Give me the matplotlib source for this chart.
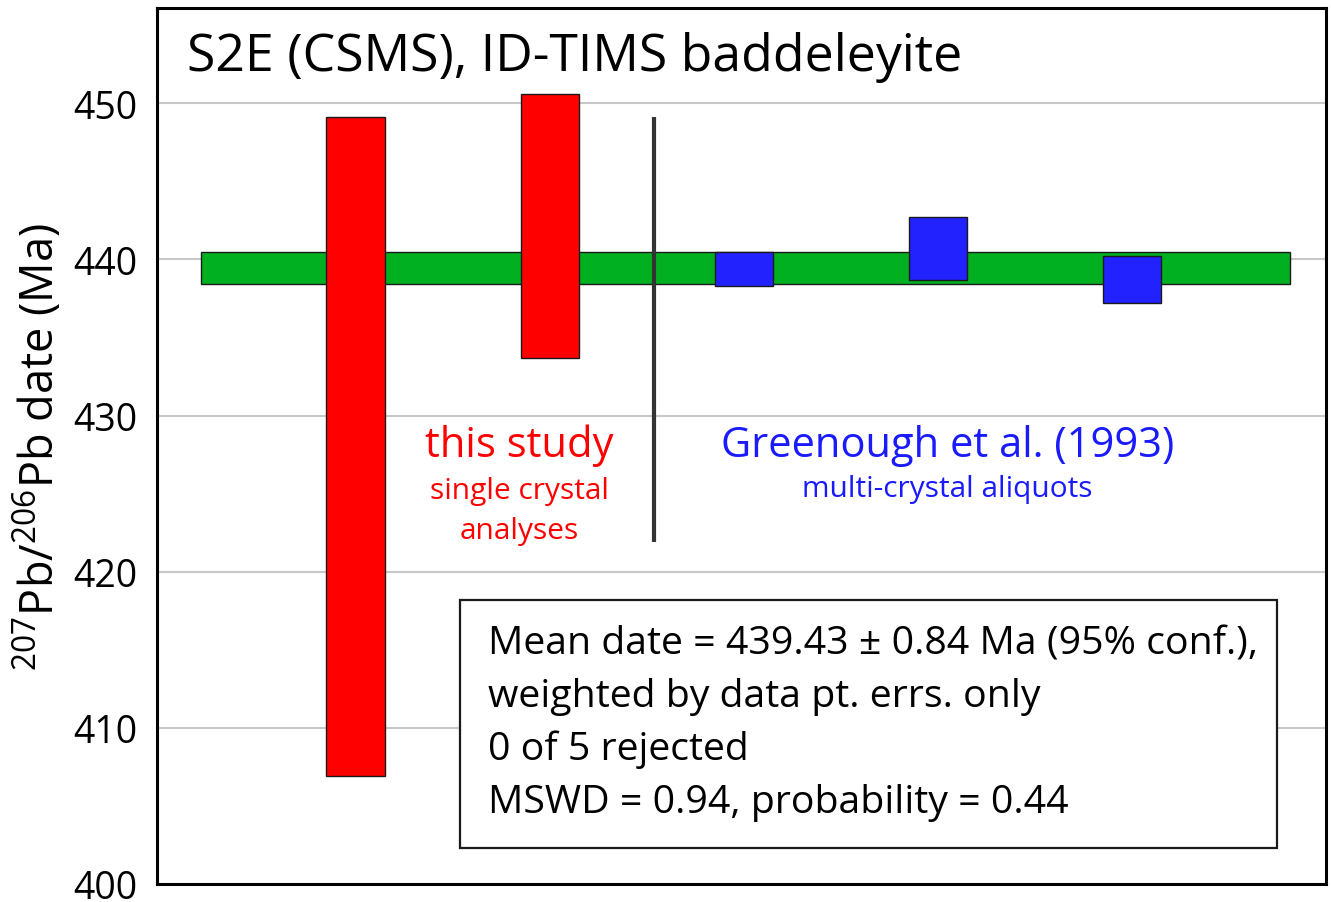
import matplotlib
matplotlib.use("Agg")
import matplotlib.pyplot as plt
from matplotlib.patches import Rectangle

plt.rcParams['font.family'] = ['Open Sans', 'DejaVu Sans']
plt.rcParams['mathtext.fontset'] = 'custom'
plt.rcParams['mathtext.rm'] = 'Open Sans'
plt.rcParams['mathtext.it'] = 'Open Sans'

# ---- data ----
positions = [1, 2, 3, 4, 5]
upper = [449.1, 450.6, 440.5, 442.7, 440.2]
lower = [406.9, 433.7, 438.3, 438.7, 437.2]
colors = ['#ff0000', '#ff0000', '#2222ff', '#2222ff', '#2222ff']
mean_upper = 440.45
mean_lower = 438.40
yticks = [400, 410, 420, 430, 440, 450]
title = "S2E (CSMS), ID-TIMS baddeleyite"
ylabel = r"$^{207}$Pb/$^{206}$Pb date (Ma)"
stats_lines = [
    "Mean date = 439.43 \u00b1 0.84 Ma (95% conf.),",
    "weighted by data pt. errs. only",
    "0 of 5 rejected",
    "MSWD = 0.94, probability = 0.44",
]

fig = plt.figure(figsize=(13.31, 9.03), dpi=100)
ax = fig.add_axes([157/1331, 18/903, (1326-157)/1331, (885-9)/903])
ax.set_xlim(-0.023, 6.0)
ax.set_ylim(400, 456.1)

# grid
ax.set_yticks(yticks)
ax.yaxis.grid(True, color='#c8c8c8', linewidth=1.5, zorder=0)
ax.set_axisbelow(True)
ax.set_xticks([])
ax.tick_params(axis='y', length=0, labelsize=27, pad=14)
for s in ax.spines.values():
    s.set_linewidth(2.2)

# mean band
ax.add_patch(Rectangle((0.203, mean_lower), 5.817 - 0.203, mean_upper - mean_lower,
                       facecolor='#00b020', edgecolor='#1a1a1a', linewidth=1, zorder=2))

# error boxes
bw = 0.30
for x, u, l, c in zip(positions, upper, lower, colors):
    ax.bar(x, u - l, bottom=l, width=bw, color=c, edgecolor='#1a1a1a', linewidth=1, zorder=3)

# divider
ax.plot([2.54, 2.54], [421.9, 449.1], color='#333333', linewidth=3, zorder=4, solid_capstyle='butt')

# texts
ax.text(0.131, 453.0, title, fontsize=37.3, ha='left', va='center', zorder=5)
ax.set_ylabel(ylabel, fontsize=32.5, labelpad=6)

ax.text(1.843, 428.1, "this study", color='#ff0000', fontsize=30, ha='center', va='center')
ax.text(1.843, 425.2, "single crystal", color='#ff0000', fontsize=21.5, ha='center', va='center')
ax.text(1.843, 422.65, "analyses", color='#ff0000', fontsize=21.5, ha='center', va='center')
ax.text(4.05, 428.1, "Greenough et al. (1993)", color='#1a1aff', fontsize=30, ha='center', va='center')
ax.text(4.05, 425.3, "multi-crystal aliquots", color='#1a1aff', fontsize=21.5, ha='center', va='center')

ax.add_patch(Rectangle((1.54, 402.3), 5.75 - 1.54, 418.2 - 402.3, facecolor='white',
                       edgecolor='#1a1a1a', linewidth=1.6, zorder=5))
line_y = [415.4, 412.05, 408.65, 405.25]
for y, t in zip(line_y, stats_lines):
    ax.text(1.68, y, t, fontsize=28.3, ha='left', va='center', zorder=6)

fig.savefig("out.png", dpi=100)
